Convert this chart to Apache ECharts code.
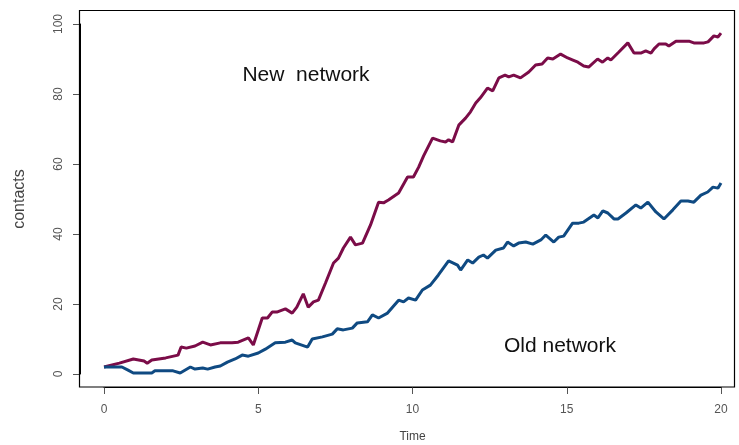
<!DOCTYPE html>
<html>
<head>
<meta charset="utf-8">
<script src="https://cdn.jsdelivr.net/npm/echarts@6/dist/echarts.min.js"></script>
<style>html,body{margin:0;padding:0;background:#fff}#c{width:739px;height:445px}</style>
</head>
<body>
<div id="c"></div>
<script>
const xTicks = [0, 5, 10, 15, 20];
const yTicks = [0, 20, 40, 60, 80, 100];

const newTime = [0,0.13,0.5,0.95,1.3,1.4,1.55,2.0,2.4,2.5,2.67,2.95,3.2,3.45,3.77,4.15,4.35,4.68,4.84,5.13,5.3,5.45,5.6,5.88,6.1,6.25,6.46,6.62,6.79,6.95,7.18,7.44,7.6,7.76,7.99,8.15,8.38,8.64,8.9,9.06,9.22,9.55,9.84,10.03,10.2,10.36,10.65,10.9,11.07,11.17,11.3,11.5,11.72,11.88,12.05,12.2,12.43,12.6,12.8,13.0,13.12,13.28,13.5,13.77,13.99,14.2,14.38,14.55,14.8,15.03,15.2,15.36,15.55,15.71,16.0,16.16,16.33,16.43,16.69,16.98,17.18,17.4,17.56,17.73,17.83,17.99,18.21,18.31,18.54,18.96,19.12,19.45,19.58,19.77,19.9,20.0];
const newContacts = [2.0,2.3,3.1,4.3,3.7,3.1,4.0,4.6,5.4,7.7,7.4,8.0,9.1,8.3,8.9,8.9,9.1,10.3,8.3,16,16,17.7,17.7,18.6,17.4,19.1,22.9,19.1,20.6,21.1,26,31.7,33.1,36,39.1,36.9,37.4,42.6,49.1,48.9,49.7,51.7,56.3,56.3,59.1,62.3,67.4,66.6,66.3,66.9,66.3,71.1,73.1,74.9,77.4,78.9,81.7,80.9,84.6,85.4,84.9,85.4,84.6,86.3,88.3,88.6,90.3,90.0,91.4,90.3,89.7,89.1,88.0,87.7,90.0,89.1,90.3,89.7,92.0,94.6,91.7,91.7,92.3,91.7,92.9,94.3,94.3,93.7,95.1,95.1,94.6,94.6,94.9,96.6,96.3,97.4];

const oldTime = [0,0.36,0.58,0.78,0.95,1.55,1.65,2.24,2.47,2.8,2.95,3.2,3.36,3.6,3.77,4.0,4.25,4.48,4.68,5.0,5.23,5.55,5.88,6.1,6.2,6.6,6.75,7.08,7.4,7.56,7.76,8.05,8.21,8.54,8.7,8.9,9.19,9.55,9.71,9.87,10.1,10.32,10.58,10.84,11.17,11.46,11.56,11.79,11.95,12.15,12.3,12.43,12.7,12.95,13.08,13.28,13.44,13.67,13.9,14.16,14.32,14.58,14.74,14.9,15.19,15.39,15.55,15.88,16.01,16.17,16.33,16.53,16.66,16.92,17.24,17.4,17.63,17.89,18.15,18.44,18.7,18.93,19.12,19.35,19.57,19.74,19.9,20.0];
const oldContacts = [2.0,2.0,2.0,1.1,0.3,0.3,0.9,0.9,0.3,2.0,1.4,1.7,1.4,2.0,2.3,3.4,4.3,5.4,5.1,6.0,7.1,8.9,9.1,9.7,8.9,7.7,10.0,10.6,11.4,12.9,12.6,13.1,14.6,14.9,16.9,16.0,17.4,21.1,20.6,21.7,21.1,24.0,25.4,28.3,32.3,31.1,29.7,32.6,31.7,33.4,34.0,33.1,35.4,36.0,37.7,36.6,37.4,37.7,37.1,38.3,39.7,37.7,39.1,39.4,43.1,43.1,43.4,45.4,44.6,46.6,46.0,44.3,44.3,46.0,48.3,47.4,49.1,46.3,44.3,46.9,49.4,49.4,49.1,51.1,52.0,53.4,53.1,54.6];

const newLabel = 'New  network';
const oldLabel = 'Old network';

const FONT = '"Liberation Sans", Arial, sans-serif';
const chart = echarts.init(document.getElementById('c'), null, {renderer: 'canvas'});
chart.setOption({
  animation: false,
  backgroundColor: '#ffffff',
  grid: {left: 104, right: 18, top: 24, bottom: 71, containLabel: false, outerBoundsMode: 'none'},
  xAxis: {
    type: 'value', min: xTicks[0], max: xTicks[xTicks.length - 1], interval: 5,
    position: 'bottom', offset: 13,
    name: 'Time', nameLocation: 'middle', nameGap: 44,
    nameTextStyle: {fontFamily: FONT, fontSize: 12, color: '#444'},
    axisLine: {show: true, onZero: false, lineStyle: {color: '#000', width: 1}},
    axisTick: {show: true, length: 7, lineStyle: {color: '#555'}},
    axisLabel: {fontFamily: FONT, fontSize: 12, color: '#555', margin: 17},
    splitLine: {show: false}
  },
  yAxis: {
    type: 'value', min: yTicks[0], max: yTicks[yTicks.length - 1], interval: 20,
    position: 'left', offset: 24,
    name: 'contacts', nameLocation: 'middle', nameGap: 52, nameRotate: 90,
    nameTextStyle: {fontFamily: FONT, fontSize: 16, color: '#444'},
    axisLine: {show: true, onZero: false, lineStyle: {color: '#000', width: 1}},
    axisTick: {show: true, length: 7, lineStyle: {color: '#555'}},
    axisLabel: {fontFamily: FONT, fontSize: 12, color: '#555', margin: 15, rotate: 90, align: 'center', verticalAlign: 'bottom'},
    splitLine: {show: false}
  },
  series: [
    {
      type: 'line', name: 'New network', showSymbol: false, symbol: 'none',
      data: newTime.map((t, i) => [t, newContacts[i]]),
      lineStyle: {color: '#7b0c48', width: 3}, clip: false
    },
    {
      type: 'line', name: 'Old network', showSymbol: false, symbol: 'none',
      data: oldTime.map((t, i) => [t, oldContacts[i]]),
      lineStyle: {color: '#0f4a82', width: 3}, clip: false
    }
  ],
  graphic: [
    {type: 'rect', shape: {x: 79.5, y: 10.5, width: 655, height: 376.5}, style: {fill: 'none', stroke: '#000', lineWidth: 1.2}, silent: true, z: 100},
    {type: 'text', x: 306, y: 75, style: {text: newLabel, fontFamily: FONT, fontSize: 21, fill: '#111', align: 'center', verticalAlign: 'middle'}},
    {type: 'text', x: 560, y: 346, style: {text: oldLabel, fontFamily: FONT, fontSize: 21, fill: '#111', align: 'center', verticalAlign: 'middle'}}
  ]
});
</script>
</body>
</html>
